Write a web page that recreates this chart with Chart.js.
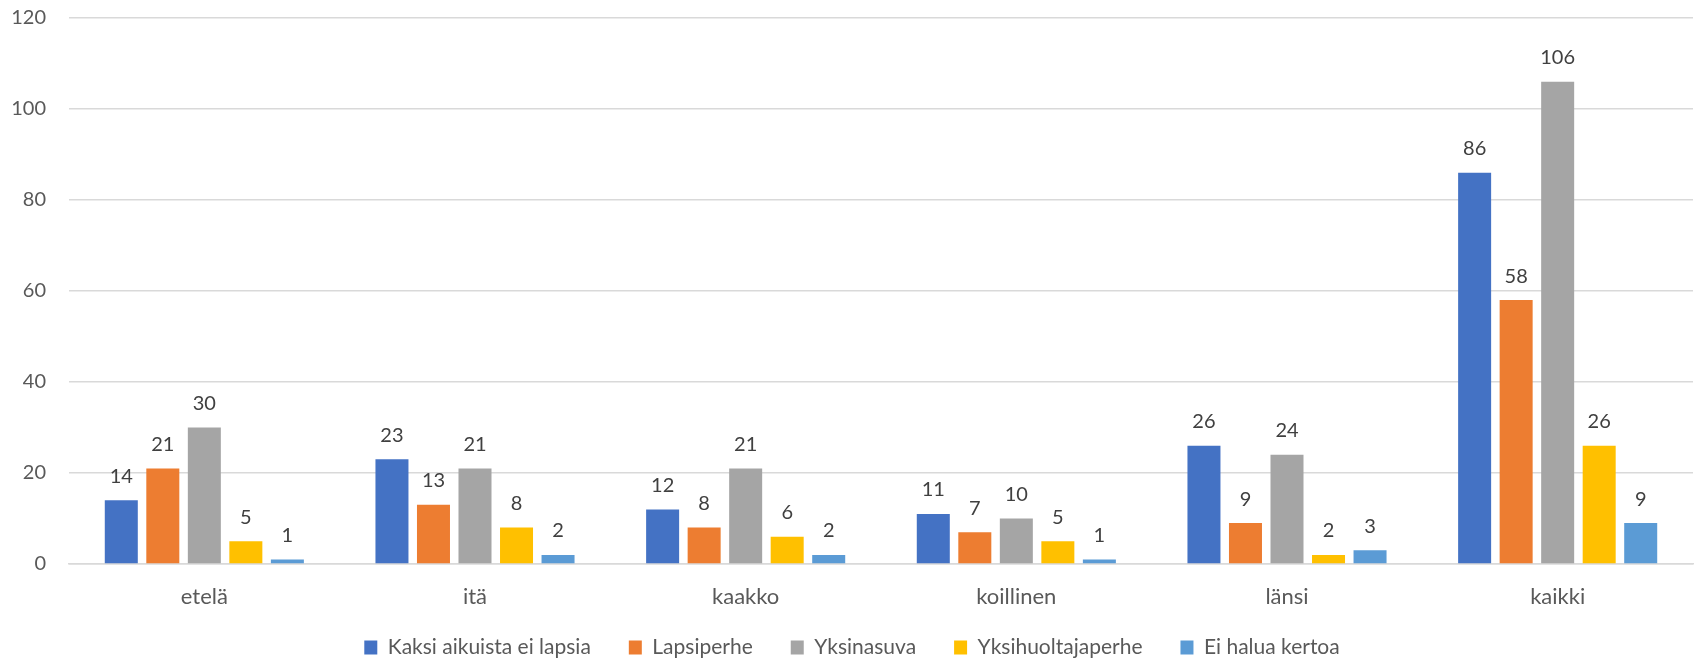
<!DOCTYPE html>
<html>
<head>
<meta charset="utf-8">
<script src="https://cdn.jsdelivr.net/npm/chart.js@4/dist/chart.umd.min.js"></script>
<style>
  html, body { margin: 0; padding: 0; background: #fff; }
  #wrap { width: 1696px; height: 660px; }
</style>
</head>
<body>
<div id="wrap"><canvas id="kaavio"></canvas></div>
<script>
let alueet = ['etelä', 'itä', 'kaakko', 'koillinen', 'länsi', 'kaikki'];
let kaksiAikuista = [14, 23, 12, 11, 26, 86];
let lapsiperhe = [21, 13, 8, 7, 9, 58];
let yksinasuva = [30, 21, 21, 10, 24, 106];
let yksinhuoltaja = [5, 8, 6, 5, 2, 26];
let eiHalua = [1, 2, 2, 1, 3, 9];
let yTicks = [0, 20, 40, 60, 80, 100, 120];

const fontti = 'Lato, "Open Sans", sans-serif';

// arvot palkkien päälle
const arvoLabelit = {
    id: 'arvoLabelit',
    afterDatasetsDraw(chart) {
        let ctx = chart.ctx;
        ctx.save();
        ctx.font = '20px ' + fontti;
        ctx.fillStyle = '#404040';
        ctx.textAlign = 'center';
        ctx.textBaseline = 'middle';
        chart.data.datasets.forEach((ds, i) => {
            chart.getDatasetMeta(i).data.forEach((bar, j) => {
                ctx.fillText(ds.data[j], bar.x, bar.y - 24);
            });
        });
        ctx.restore();
    }
};

let kaavio = new Chart(document.getElementById('kaavio').getContext('2d'), {
    type: 'bar',
    data: {
        labels: alueet,
        datasets: [
            { label: 'Kaksi aikuista ei lapsia', data: kaksiAikuista, backgroundColor: '#4472C4' },
            { label: 'Lapsiperhe', data: lapsiperhe, backgroundColor: '#ED7D31' },
            { label: 'Yksinasuva', data: yksinasuva, backgroundColor: '#A5A5A5' },
            { label: 'Yksihuoltajaperhe', data: yksinhuoltaja, backgroundColor: '#FFC000' },
            { label: 'Ei halua kertoa', data: eiHalua, backgroundColor: '#5B9BD5' }
        ]
    },
    options: {
        responsive: true,
        maintainAspectRatio: false,
        animation: false,
        categoryPercentage: 0.767,
        barPercentage: 0.795,
        layout: { padding: { left: 11, right: 3, top: 18, bottom: -8 } },
        plugins: {
            legend: {
                position: 'bottom',
                labels: {
                    font: { family: fontti, size: 21 },
                    color: '#595959',
                    boxWidth: 13,
                    boxHeight: 14,
                    padding: 38
                }
            },
            tooltip: { enabled: false }
        },
        scales: {
            x: {
                grid: { display: false },
                border: { color: '#d9d9d9', width: 1.5 },
                // mirror + negatiivinen padding, ettei akselin alue leikkaa tekstiä
                ticks: { font: { family: fontti, size: 22 }, color: '#595959', mirror: true, padding: -46 },
                afterFit: axis => { axis.height = 35; }
            },
            y: {
                min: 0,
                max: 120,
                afterBuildTicks: axis => { axis.ticks = yTicks.map(v => ({ value: v })); },
                grid: { color: '#d9d9d9', lineWidth: 1.5, drawTicks: false },
                border: { display: false },
                ticks: { font: { family: fontti, size: 20 }, color: '#595959', padding: 23 },
                afterFit: axis => {
                    axis.width = 58;
                    axis.paddingTop = 10;
                    axis.paddingBottom = 0;
                }
            }
        }
    },
    plugins: [arvoLabelit]
});
</script>
</body>
</html>
